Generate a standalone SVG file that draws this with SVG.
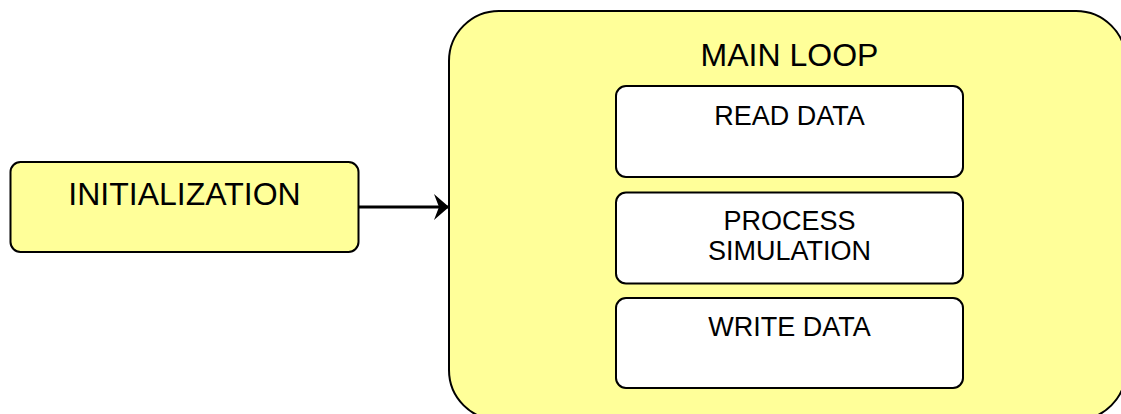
<svg xmlns="http://www.w3.org/2000/svg" width="1121" height="414" viewBox="0 0 1121 414">
  <style>
    .block { fill: #ffff99; stroke: #000; stroke-width: 2; }
    .step { fill: #fff; stroke: #000; stroke-width: 2; }
    .label { font-family: "Liberation Sans", Arial, sans-serif; fill: #000; text-anchor: middle; }
    .big { font-size: 32px; }
    .small { font-size: 27px; }
    .flow { fill: none; stroke: #000; stroke-width: 3; }
  </style>
  <defs>
    <marker id="head" markerUnits="userSpaceOnUse" markerWidth="18" markerHeight="28" refX="16" refY="14" orient="auto">
      <path d="M1,1 L16,14 L1,27 L6,14 Z" fill="#000"/>
    </marker>
  </defs>
  <rect width="1121" height="414" fill="#fff"/>

  <g id="initialization">
    <rect class="block" x="10.5" y="162" width="348" height="90" rx="10"/>
    <text class="label big" x="184.5" y="205">INITIALIZATION</text>
  </g>

  <g id="main-loop">
    <rect class="block" x="449" y="11" width="677" height="409" rx="50"/>
    <text class="label big" x="789.5" y="66">MAIN LOOP</text>
  </g>

  <g id="read-data">
    <rect class="step" x="616" y="86" width="347" height="91" rx="10"/>
    <text class="label small" x="789.5" y="125">READ DATA</text>
  </g>

  <g id="process-simulation">
    <rect class="step" x="616" y="192.5" width="347" height="91" rx="10"/>
    <text class="label small" x="789.5" y="230">PROCESS</text>
    <text class="label small" x="789.5" y="260">SIMULATION</text>
  </g>

  <g id="write-data">
    <rect class="step" x="616" y="298" width="347" height="90" rx="10"/>
    <text class="label small" x="789.5" y="336">WRITE DATA</text>
  </g>

  <g id="connectors">
    <path class="flow" d="M359,207 L449,207" marker-end="url(#head)"/>
  </g>
</svg>
